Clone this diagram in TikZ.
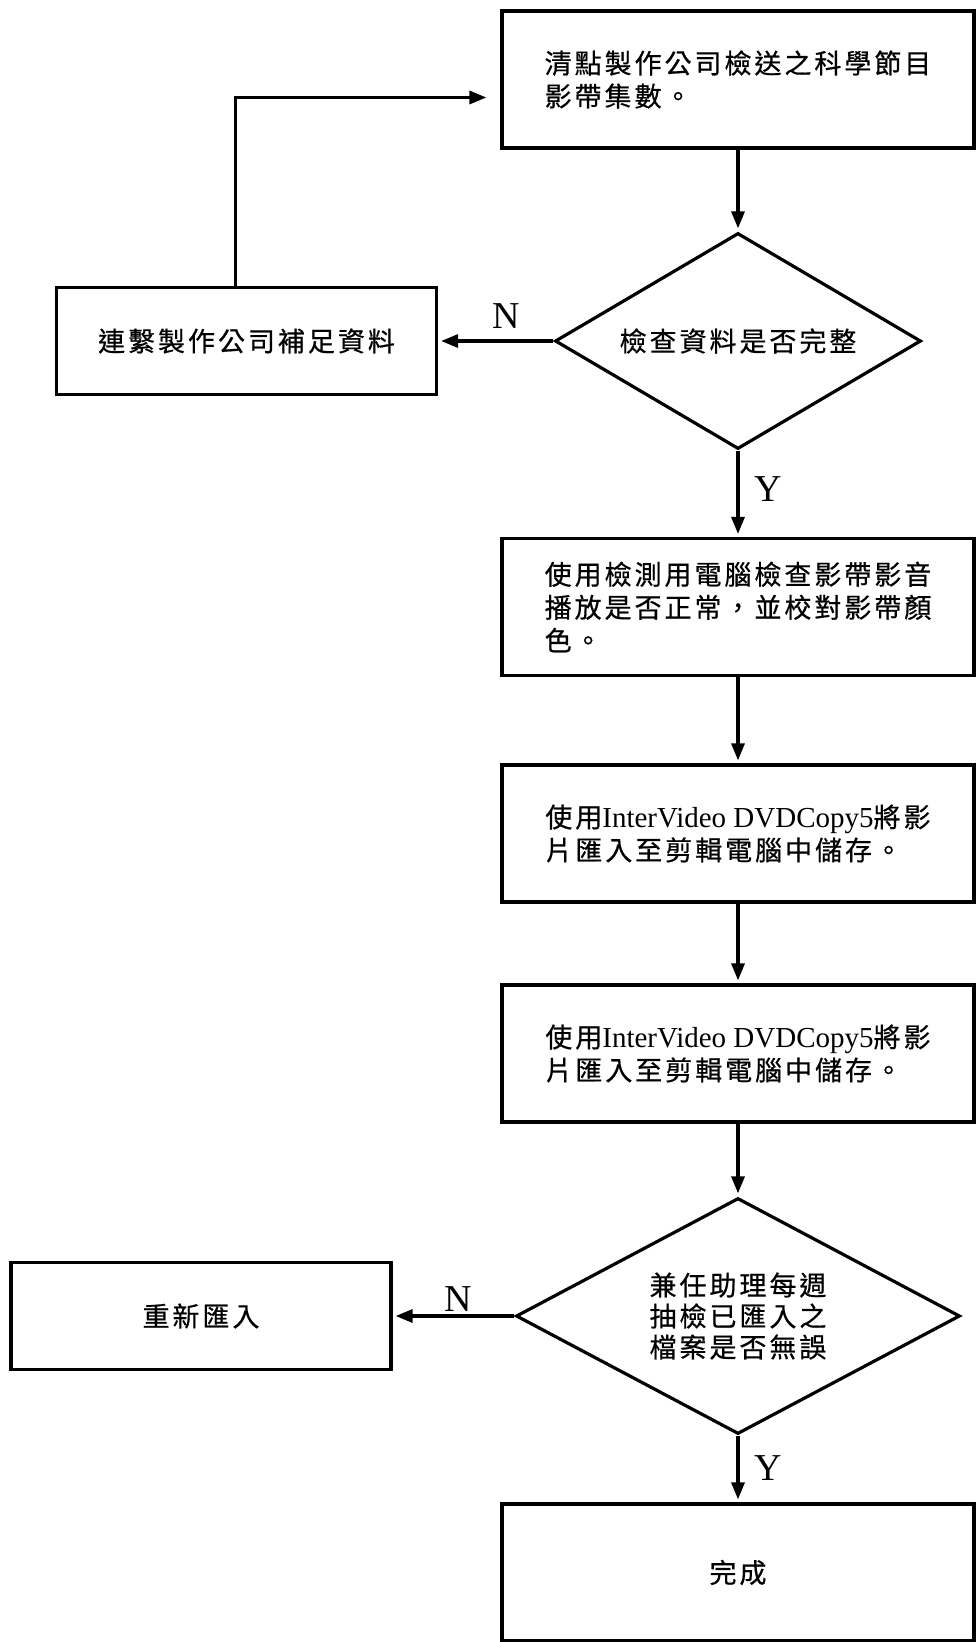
\documentclass[tikz,border=0pt]{standalone}
\usepackage{fontspec}
\setmainfont{Liberation Serif}
\newfontfamily\cjk[LetterSpace=11,FakeBold=0.6]{Noto Sans CJK TC}
\newcommand{\engtext}[1]{{\rmfamily\fontsize{29}{33}\selectfont #1}}
\usetikzlibrary{shapes.geometric,arrows.meta,positioning}

\tikzset{
  proc/.style={draw,rectangle,align=left,minimum width=472pt,minimum height=137pt,
    font=\cjk\fontsize{27}{33}\selectfont},
  side/.style={draw,rectangle,minimum width=380pt,minimum height=107pt,
    font=\cjk\fontsize{27}{33}\selectfont},
  query/.style={draw,diamond,aspect=1.7,inner sep=0pt,align=center,
    font=\cjk\fontsize{27}{31}\selectfont},
  answer/.style={font=\rmfamily\fontsize{38}{38}\selectfont}
}

\begin{document}
\begin{tikzpicture}[shorten >=3pt,on grid,auto,line width=3.2pt,
    >={Triangle[length=17pt,width=13pt]}]
   \useasboundingbox (0,0) rectangle (977pt,-1642pt);
   \node[proc] (count) at (738pt,-79.5pt) {清點製作公司檢送之科學節目\\影帶集數。};
   \node[query,minimum width=366pt,minimum height=216pt] (full) [below=261.5pt of count] {檢查資料是否完整};
   \node[side] (contact) [left=491.5pt of full] {連繫製作公司補足資料};
   \node[proc] (play) [below=266pt of full] {使用檢測用電腦檢查影帶影音\\播放是否正常，並校對影帶顏\\色。};
   \node[proc] (copy) [below=226.5pt of play] {使用\engtext{InterVideo DVDCopy5}將影\\片匯入至剪輯電腦中儲存。};
   \node[proc] (store) [below=220pt of copy] {使用\engtext{InterVideo DVDCopy5}將影\\片匯入至剪輯電腦中儲存。};
   \node[query,minimum width=444pt,minimum height=236pt] (weekly) [below=262.5pt of store] {兼任助理每週\\抽檢已匯入之\\檔案是否無誤};
   \node[side] (redo) [left=537pt of weekly] {重新匯入};
   \node[proc] (done) [below=256.5pt of weekly] {完成};
    \path[->]
    (count) edge (full)
    (full) edge node [answer,swap,pos=0.41,yshift=8pt] {N} (contact)
    (full) edge node [answer,pos=0.44,xshift=12pt] {Y} (play)
    (play) edge (copy)
    (copy) edge (store)
    (store) edge (weekly)
    (weekly) edge node [answer,swap,pos=0.46] {N} (redo)
    (weekly) edge node [answer,pos=0.48,xshift=12pt] {Y} (done);
   \draw[->,shorten >=14pt] ([xshift=-11pt]contact.north) |- ([yshift=-18pt]count.west);
\end{tikzpicture}
\end{document}
